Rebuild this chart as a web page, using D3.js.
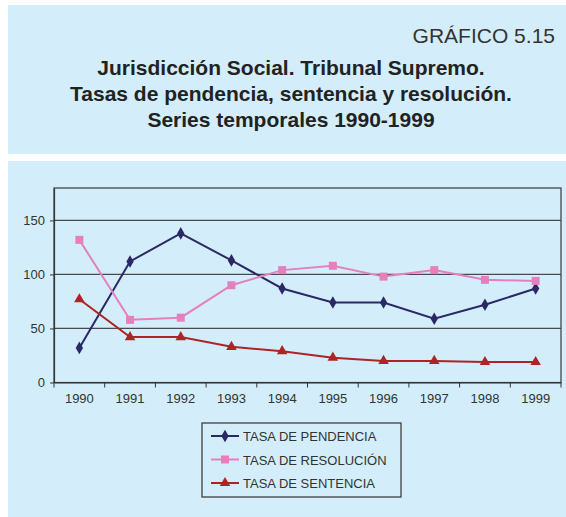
<!DOCTYPE html>
<html>
<head>
<meta charset="utf-8">
<script src="https://cdn.jsdelivr.net/npm/d3@7"></script>
<style>
  body { margin: 0; background: #fff; }
  svg { display: block; font-family: "Liberation Sans", Arial, sans-serif; }
</style>
</head>
<body>
<svg id="chart"></svg>
<script>
const years = ['1990', '1991', '1992', '1993', '1994', '1995', '1996', '1997', '1998', '1999'];
const pendencia = [32, 112, 138, 113, 87, 74, 74, 59, 72, 87];
const resolucion = [132, 58, 60, 90, 104, 108, 98, 104, 95, 94];
const sentencia = [77, 42, 42, 33, 29, 23, 20, 20, 19, 19];
const yTicks = [0, 50, 100, 150];
const titleLines = ['Jurisdicción Social. Tribunal Supremo.', 'Tasas de pendencia, sentencia y resolución.', 'Series temporales 1990-1999'];

const series = [
  {name: 'TASA DE PENDENCIA', values: pendencia, color: '#2a2966', symbol: d3.symbolDiamond, size: 46},
  {name: 'TASA DE RESOLUCIÓN', values: resolucion, color: '#e57fbd', symbol: d3.symbolSquare, size: 64},
  {name: 'TASA DE SENTENCIA', values: sentencia, color: '#ad2426', symbol: d3.symbolTriangle, size: 48}
];

const chartSize = {width: 566, height: 517};
const plot = {left: 54, right: 561, top: 188, bottom: 382.5};
const bg = '#d3eefa';

const svg = d3.select('#chart')
    .attr('width', chartSize.width)
    .attr('height', chartSize.height);

// header panel
svg.append('rect').attr('x', 8).attr('y', 5).attr('width', 558).attr('height', 149).attr('fill', bg);
svg.append('text')
    .attr('x', 555).attr('y', 43)
    .attr('text-anchor', 'end')
    .attr('font-size', 21)
    .attr('fill', '#333')
    .text('GRÁFICO 5.15');
svg.append('g').selectAll('text')
    .data(titleLines)
    .join('text')
    .attr('x', 291)
    .attr('y', (d, i) => 75 + i * 26)
    .attr('text-anchor', 'middle')
    .attr('font-size', 21)
    .attr('font-weight', 'bold')
    .attr('fill', '#222')
    .text(d => d);

// chart panel
svg.append('rect').attr('x', 8).attr('y', 161).attr('width', 558).attr('height', 356).attr('fill', bg);

const x = d3.scaleBand().domain(years).range([plot.left, plot.right]);
const y = d3.scaleLinear().domain([0, 180]).range([plot.bottom, plot.top]);
const cx = d => x(d) + x.bandwidth() / 2;

// gridlines
svg.append('g').selectAll('line')
    .data(yTicks.slice(1))
    .join('line')
    .attr('x1', plot.left).attr('x2', plot.right)
    .attr('y1', d => y(d)).attr('y2', d => y(d))
    .attr('stroke', '#4a4a4a').attr('stroke-width', 1.2);

// plot border
svg.append('rect')
    .attr('x', plot.left).attr('y', plot.top)
    .attr('width', plot.right - plot.left).attr('height', plot.bottom - plot.top)
    .attr('fill', 'none').attr('stroke', '#3a3a3a').attr('stroke-width', 1.2);

const yAxis = svg.append('g')
    .attr('transform', `translate(${plot.left},0)`)
    .call(d3.axisLeft(y).tickValues(yTicks).tickSizeInner(4).tickSizeOuter(0).tickPadding(5));
const xAxis = svg.append('g')
    .attr('transform', `translate(0,${plot.bottom})`)
    .call(d3.axisBottom(x).tickSize(0).tickPadding(11));
xAxis.append('g').selectAll('line')
    .data(d3.range(years.length + 1))
    .join('line')
    .attr('x1', i => plot.left + i * x.step()).attr('x2', i => plot.left + i * x.step())
    .attr('y1', 0).attr('y2', 5)
    .attr('stroke', '#333');
[yAxis, xAxis].forEach(a => {
  a.select('.domain').attr('stroke', '#333').attr('stroke-width', 1.2);
  a.selectAll('.tick line').attr('stroke', '#333');
  a.selectAll('text').attr('font-size', 13).attr('fill', '#333').attr('font-family', '"Liberation Sans", Arial, sans-serif');
});

const line = d3.line()
    .x((d, i) => cx(years[i]))
    .y(d => y(d));

series.forEach(s => {
  svg.append('path')
      .attr('d', line(s.values))
      .attr('fill', 'none')
      .attr('stroke', s.color)
      .attr('stroke-width', 2);
  svg.append('g').selectAll('path')
      .data(s.values)
      .join('path')
      .attr('transform', (d, i) => `translate(${cx(years[i])},${y(d)})`)
      .attr('d', d3.symbol().type(s.symbol).size(s.size))
      .attr('fill', s.color);
});

// legend
const legend = svg.append('g').attr('transform', 'translate(202,423)');
legend.append('rect')
    .attr('width', 199).attr('height', 74)
    .attr('fill', bg).attr('stroke', '#333').attr('stroke-width', 1.2);
const rows = legend.selectAll('g.row')
    .data(series)
    .join('g')
    .attr('class', 'row')
    .attr('transform', (d, i) => `translate(0,${13 + i * 23.5})`);
rows.append('line')
    .attr('x1', 9).attr('x2', 37)
    .attr('stroke', d => d.color).attr('stroke-width', 2);
rows.append('path')
    .attr('transform', 'translate(23,0)')
    .attr('d', d => d3.symbol().type(d.symbol).size(d.size)())
    .attr('fill', d => d.color);
rows.append('text')
    .attr('x', 41).attr('y', 5)
    .attr('font-size', 13)
    .attr('fill', '#333')
    .text(d => d.name);
</script>
</body>
</html>
